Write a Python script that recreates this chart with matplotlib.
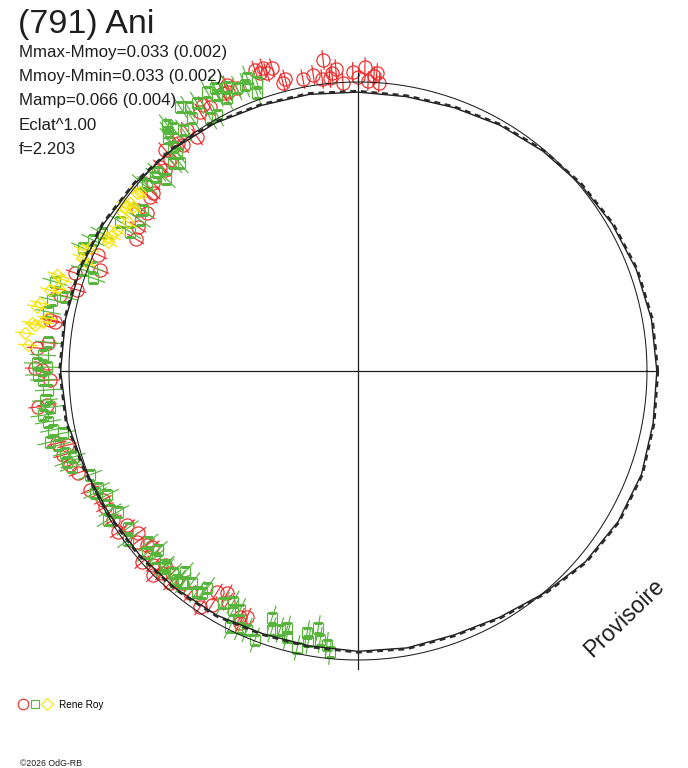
import numpy as np
import matplotlib
matplotlib.use("Agg")
import matplotlib.pyplot as plt
from matplotlib.lines import Line2D
from matplotlib.legend_handler import HandlerTuple

plt.rcParams['font.family'] = ['Liberation Sans', 'DejaVu Sans']

# ---------------- text ----------------
title = "(791) Ani"
stats_lines = ["Mmax-Mmoy=0.033 (0.002)",
               "Mmoy-Mmin=0.033 (0.002)",
               "Mamp=0.066 (0.004)",
               "Eclat^1.00",
               "f=2.203"]
observer = "Rene Roy"
watermark = "Provisoire"
copyright_txt = "\u00a92026 OdG-RB"

# ---------------- model lightcurve (phase angle deg, relative radius) ----------------
model_angle = [0, 10, 20, 30, 40, 50, 60, 70, 80, 90, 100, 110, 120, 130, 140, 150, 160, 170,
               180, 190, 200, 210, 220, 230, 240, 250, 260, 270, 280, 290, 300, 310, 320, 330, 340, 350]
model_r = [1.034, 1.031, 1.025, 1.016, 1.005, 0.994, 0.982, 0.970, 0.964, 0.965, 0.972, 0.978,
           0.990, 1.000, 1.008, 1.017, 1.024, 1.028, 1.029, 1.022, 1.004, 0.993, 0.988, 0.982,
           0.976, 0.967, 0.966, 0.970, 0.973, 0.972, 0.983, 1.003, 1.027, 1.040, 1.044, 1.037]
mean_r = 1.0
cross_r = 1.031

# ---------------- observations ----------------
red_angle = [85.8, 86.4, 86.9, 88.0, 88.7, 90.0, 91.0, 93.0, 94.2, 95.0, 95.5, 96.4, 97.0, 98.6,
             100.7, 104.0, 104.6, 105.8, 107.0, 107.4, 108.2, 108.9, 113.2, 114.6, 115.0, 115.9,
             119.3, 120.2, 121.4, 124.5, 125.4, 127.8, 128.3, 131.1, 131.7, 133.8, 134.1, 137.5,
             139.0, 140.1, 143.2, 143.8, 146.8, 149.3, 155.9, 158.6, 160.9, 163.9, 165.7, 170.6,
             170.8, 174.8, 175.9, 179.5, 179.8, 181.7, 186.2, 186.4, 193.5, 194.3, 195.9, 198.1,
             200.0, 203.9, 206.8, 208.3, 211.3, 213.7, 213.9, 216.4, 217.7, 219.5, 220.5, 221.5,
             223.4, 224.9, 225.2, 225.9, 227.4, 228.4, 230.3, 232.9, 236.2, 237.5, 238.0, 239.5,
             240.6, 244.4, 244.9, 245.7]
red_r = [1.000, 1.033, 1.022, 1.004, 1.052, 1.017, 1.035, 0.998, 1.048, 1.035, 1.018, 1.083, 1.018, 1.036,
         1.028, 1.041, 1.030, 1.090, 1.080, 1.099, 1.085, 1.100, 1.065, 1.090, 1.065, 1.069,
         1.047, 1.065, 1.050, 0.983, 1.023, 0.989, 1.005, 1.015, 0.978, 0.964, 0.984, 0.962,
         0.940, 0.938, 0.912, 0.943, 0.910, 0.895, 0.985, 0.959, 1.036, 1.012, 1.064, 1.080,
         1.062, 1.077, 1.114, 1.118, 1.093, 1.066, 1.083, 1.114, 1.071, 1.039, 1.061, 1.048,
         1.031, 1.015, 0.989, 0.994, 0.992, 0.961, 1.000, 0.945, 0.967, 0.946, 0.938, 0.998,
         0.976, 1.000, 0.947, 0.974, 0.950, 0.980, 0.953, 0.963, 0.983, 0.907, 0.954, 0.892,
         0.917, 0.944, 0.963, 0.934]
red_err = 0.034

green_angle = [109.3, 110.0, 110.7, 111.6, 113.2, 114.8, 115.6, 116.8, 117.0, 118.4, 118.8, 120.3,
               121.0, 122.8, 123.3, 124.0, 126.0, 127.3, 127.8, 128.5, 129.2, 129.5, 129.7, 130.6,
               131.6, 135.3, 134.9, 136.3, 138.6, 139.0, 143.2, 145.3, 147.9, 148.6, 151.7, 153.7,
               155.9, 158.6, 159.8, 160.7, 163.6, 165.8, 166.9, 169.2, 174.7, 177.1, 178.6, 179.3,
               180.7, 181.6, 183.5, 185.3, 186.7, 188.0, 189.3, 190.9, 191.9, 193.0, 193.9, 195.6,
               196.8, 197.4, 198.6, 201.2, 204.2, 204.9, 206.3, 209.3, 210.4, 210.8, 214.3, 216.3,
               219.2, 220.8, 221.8, 222.6, 225.2, 225.6, 227.5, 229.1, 229.3, 230.5, 231.9, 233.9,
               234.9, 235.2, 239.8, 241.6, 242.4, 243.4, 243.7, 245.3, 246.8, 249.0, 250.8, 251.6,
               253.2, 254.6, 255.0, 257.6, 259.0, 259.6, 261.2, 262.0, 263.5, 264.3]
green_r = [1.059, 1.023, 1.084, 1.064, 1.065, 1.082, 1.048, 1.097, 1.072, 1.098, 1.011, 1.014,
           1.082, 1.087, 1.047, 1.100, 1.030, 1.057, 1.078, 1.056, 1.040, 1.005, 0.980, 0.947,
           0.963, 0.979, 0.940, 0.972, 0.973, 0.991, 0.929, 0.918, 0.972, 0.924, 1.006, 1.023,
           1.042, 0.988, 1.014, 0.972, 1.093, 1.046, 1.087, 1.092, 1.077, 1.091, 1.111, 1.076,
           1.107, 1.090, 1.075, 1.088, 1.073, 1.100, 1.087, 1.075, 1.043, 1.094, 1.069, 1.052,
           1.030, 1.055, 1.044, 0.995, 0.986, 1.003, 0.969, 0.984, 0.963, 1.007, 0.964, 0.988,
           0.937, 0.964, 0.929, 0.955, 0.947, 0.954, 0.948, 0.957, 0.918, 0.951, 0.931, 0.946,
           0.938, 0.914, 0.929, 0.909, 0.933, 0.990, 0.922, 0.979, 0.975, 0.997, 0.905, 0.944,
           0.936, 0.923, 0.953, 0.981, 0.924, 0.951, 0.900, 0.940, 0.954, 0.977]
green_err = 0.045

yellow_angle = [140.6, 141.1, 143.6, 143.9, 144.9, 146.0, 147.1, 149.7, 151.1, 152.1, 152.7, 155.3,
                156.3, 157.7, 158.2, 162.3, 162.8, 164.5, 165.3, 167.9, 168.7, 170.3, 171.2, 171.6,
                171.9, 173.5, 175.5]
yellow_r = [0.976, 0.982, 0.980, 0.963, 0.986, 0.985, 0.948, 0.966, 0.973, 0.983, 0.973, 1.020,
            1.040, 1.032, 1.013, 1.093, 1.071, 1.077, 1.102, 1.125, 1.133, 1.092, 1.103, 1.140,
            1.129, 1.160, 1.145]
yellow_err = 0.035

RED = '#ef2a2a'
GREEN = '#57b53d'
YELLOW = '#f5e400'
INK = '#1e1e1e'

# ---------------- figure ----------------
W, H = 688, 768
fig = plt.figure(figsize=(W / 100, H / 100), dpi=100)
fig.patch.set_facecolor('white')

rmax = 1.25
unit_px = 289.0
cx, cy = 358.0, 397.0   # centre in px (from left, from bottom)
rad_px = rmax * unit_px
ax = fig.add_axes([(cx - rad_px) / W, (cy - rad_px) / H, 2 * rad_px / W, 2 * rad_px / H],
                  projection='polar')
ax.set_theta_zero_location('E')
ax.set_theta_direction(1)
ax.set_axis_off()

def errpts(angle, r, err, marker, ms, color, z):
    ax.errorbar(np.radians(angle), r, yerr=err, fmt=marker, ms=ms, mfc='none', mec=color,
                mew=0.85, ecolor=color, elinewidth=0.85, capsize=0, zorder=z)

errpts(red_angle, red_r, red_err, 'o', 9.5, RED, 2.0)
errpts(green_angle, green_r, green_err, 's', 7.0, GREEN, 2.1)
errpts(yellow_angle, yellow_r, yellow_err, 'D', 5.8, YELLOW, 2.2)

# mean circle
th = np.linspace(0, 2 * np.pi, 721)
ax.plot(th, np.full_like(th, mean_r), color=INK, lw=0.75, zorder=3)

# model curve (closed)
ma = np.radians(model_angle + [360])
mr = np.array(model_r + [model_r[0]])
ax.plot(ma, mr, color=INK, lw=1.0, zorder=3.1)
ax.plot(ma, mr * 1.004, color='#2a2a2a', lw=1.7, dashes=(2.5, 2.0), zorder=3.2)

# cross hair
for a in (0, 90, 180, 270):
    ax.plot([np.radians(a)] * 2, [0, cross_r], color=INK, lw=0.9, zorder=3)

ax.set_ylim(0, rmax)

# ---------------- texts ----------------
fig.text(18 / W, 1 - 33 / H, title, fontsize=24.5, va='baseline', ha='left', color=INK)
for i, s in enumerate(stats_lines):
    fig.text(19 / W, 1 - (56.5 + 24.5 * i) / H, s, fontsize=12.2, va='baseline', ha='left', color=INK)

fig.text(624 / W, 1 - 618 / H, watermark, fontsize=16.5, rotation=44, rotation_mode='anchor',
         ha='center', va='center', color=INK)

fig.text(20 / W, 1 - 766 / H, copyright_txt, fontsize=6.3, va='baseline', ha='left', color=INK)

h_r = Line2D([], [], marker='o', ls='none', mfc='none', mec=RED, ms=7.6, mew=0.8)
h_g = Line2D([], [], marker='s', ls='none', mfc='none', mec=GREEN, ms=5.8, mew=0.8)
h_y = Line2D([], [], marker='D', ls='none', mfc='none', mec=YELLOW, ms=5.8, mew=0.8)
fig.legend(handles=[(h_r, h_g, h_y)], labels=[observer],
           handler_map={tuple: HandlerTuple(ndivide=None, pad=0.0)},
           loc='center left', bbox_to_anchor=(17 / W, 1 - 704.5 / H),
           frameon=False, fontsize=7.2, handlelength=3.6, handletextpad=0.6,
           borderpad=0, borderaxespad=0)

fig.savefig('out.png', dpi=100, facecolor='white')
